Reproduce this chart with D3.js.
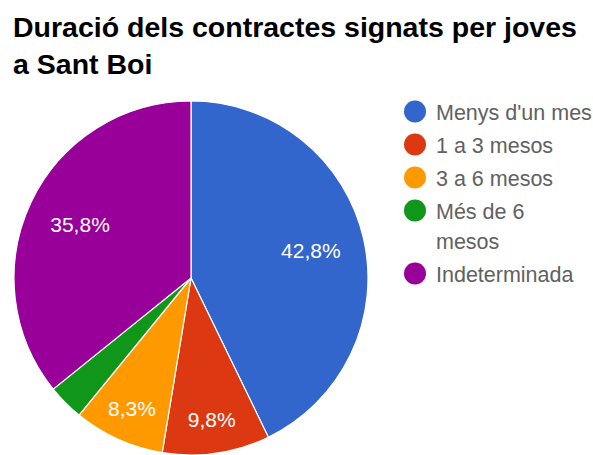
<!DOCTYPE html>
<html>
<head>
<meta charset="utf-8">
<script src="https://cdn.jsdelivr.net/npm/d3@7/dist/d3.min.js"></script>
<style>
  html, body { margin: 0; padding: 0; background: #fff; }
  svg { display: block; font-family: Arial, "Liberation Sans", sans-serif; }
</style>
</head>
<body>
<svg id="chart" width="593" height="455"></svg>
<script>
const titleLines = ['Duració dels contractes signats per joves', 'a Sant Boi'];
const categories = ["Menys d'un mes", '1 a 3 mesos', '3 a 6 mesos', 'Més de 6 mesos', 'Indeterminada'];
const legendLines = [["Menys d'un mes"], ['1 a 3 mesos'], ['3 a 6 mesos'], ['Més de 6', 'mesos'], ['Indeterminada']];
const values = [42.8, 9.8, 8.3, 3.3, 35.8];
const colors = ['#3366cc', '#dc3912', '#ff9900', '#109618', '#990099'];

const svg = d3.select('#chart'),
    cx = 191,
    cy = 278,
    radius = 177;

const fmt = v => d3.format('.1f')(v).replace('.', ',') + '%';
const total = d3.sum(values);

const data = categories.map((c, i) => ({ name: c, value: values[i], color: colors[i], lines: legendLines[i] }));

function buildTitle() {
    svg.append('g')
        .selectAll('text')
        .data(titleLines)
        .join('text')
        .attr('x', 13)
        .attr('y', (d, i) => 37 + i * 36.5)
        .attr('fill', '#000')
        .style('font-size', '28.5px')
        .style('font-weight', 'bold')
        .text(d => d);
}

function buildPie() {
    const pie = d3.pie().sort(null).value(d => d.value),
        arc = d3.arc().innerRadius(0).outerRadius(radius),
        arcs = pie(data);

    const g = svg.append('g')
        .attr('transform', `translate(${cx},${cy})`);

    g.selectAll('path')
        .data(arcs)
        .join('path')
        .attr('d', arc)
        .attr('fill', d => d.data.color)
        .attr('stroke', '#fff')
        .attr('stroke-width', 1.2);

    // small slices get their label pushed outward, tiny ones get none
    g.selectAll('text')
        .data(arcs.filter(d => d.data.value / total >= 0.05))
        .join('text')
        .attr('transform', d => {
            const r = d.data.value / total < 0.15 ? radius * 0.81 : radius * 0.695,
                c = d3.arc().innerRadius(r).outerRadius(r).centroid(d);
            return `translate(${c[0]},${c[1]})`;
        })
        .attr('text-anchor', 'middle')
        .attr('dy', '0.36em')
        .attr('fill', '#fff')
        .style('font-size', '21px')
        .text(d => fmt(d.data.value));
}

function buildLegend() {
    const g = svg.append('g').attr('transform', 'translate(415, 111.5)');
    let y = 0;

    data.forEach(d => {
        const item = g.append('g').attr('transform', `translate(0, ${y})`);

        item.append('circle')
            .attr('r', 11)
            .attr('fill', d.color);

        item.append('text')
            .attr('fill', '#616161')
            .style('font-size', '21.5px')
            .selectAll('tspan')
            .data(d.lines)
            .join('tspan')
            .attr('x', 21)
            .attr('y', (l, i) => 8 + i * 30)
            .text(l => l);

        y += 33 + (d.lines.length - 1) * 30;
    });
}

buildTitle();
buildPie();
buildLegend();
</script>
</body>
</html>
